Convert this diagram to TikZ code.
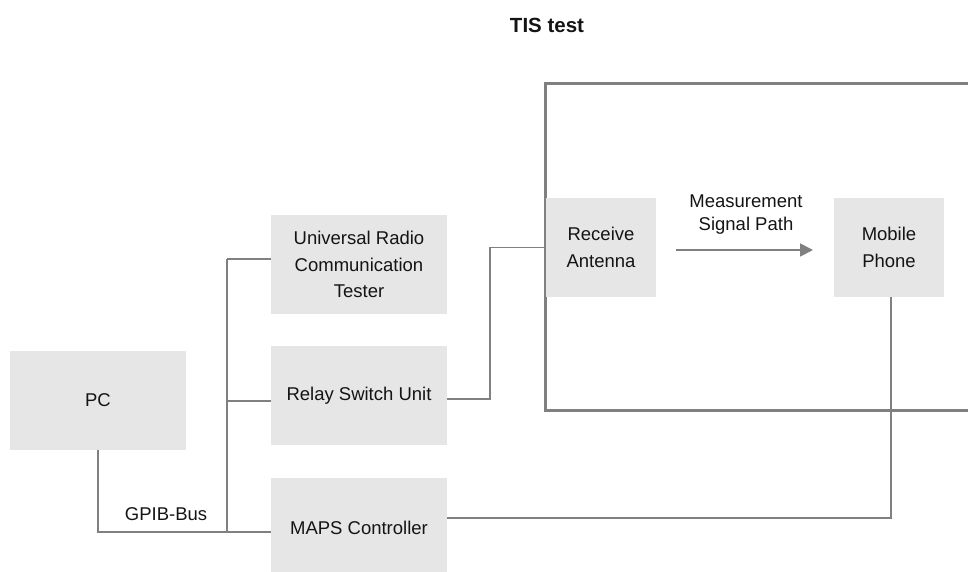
\documentclass[tikz,border=0pt]{standalone}
\usepackage{fontspec}
\setmainfont{Liberation Sans}
\usetikzlibrary{arrows.meta}
\definecolor{boxfill}{HTML}{E6E6E6}
\definecolor{wire}{HTML}{808080}
\definecolor{ink}{HTML}{141414}
\begin{document}
\begin{tikzpicture}[x=1pt,y=-1pt,
  unitbox/.style={rectangle, fill=boxfill, draw=none, inner sep=0pt,
    minimum width=176pt, minimum height=99pt, align=center, text=ink,
    font=\fontsize{18.5pt}{26.7pt}\selectfont},
  smallbox/.style={unitbox, minimum width=110pt},
  link/.style={draw=wire, line width=1.6pt},
  lbl/.style={text=ink, align=center, inner sep=0pt,
    font=\fontsize{18.5pt}{23pt}\selectfont}]
\useasboundingbox (0,0) rectangle (968,572);

% title
\node[text=ink, font=\bfseries\fontsize{20.5pt}{24pt}\selectfont] (title) at (547,25) {TIS test};

% measurement chamber (open to the right)
\draw[draw=wire, line width=3pt] (1000,84) -- (545,84) -- (545,410.5) -- (1000,410.5);

% instruments
\node[unitbox] (pc)   at (98,400)    {PC};
\node[unitbox] (urct) at (359,264.5) {Universal Radio\\Communication\\Tester};
\node[unitbox] (rsu)  at (359,395.5) {Relay Switch Unit};
\node[unitbox] (maps) at (359,527.5) {MAPS Controller};

% chamber contents
\node[smallbox] (ra) at (601,247.5) {Receive\\Antenna};
\node[smallbox] (mp) at (889,247.5) {Mobile\\Phone};

% GPIB bus
\coordinate (bustop) at (227,259);
\coordinate (busbot) at (227,532);
\draw[link] (pc.south) |- (busbot) -- (busbot -| maps.west);
\draw[link] (bustop) -- (busbot);
\draw[link] (bustop) -- (bustop -| urct.west);
\draw[link] (bustop |- 0,401) -- (urct.west |- 0,401);
\node[lbl] (gpib) at (166,514) {GPIB-Bus};

% RF path from relay switch unit to antenna
\draw[link] ([yshift=-3.5pt]rsu.east) -- (490,399) |- (ra.west);

% positioner control to mobile phone
\draw[link] ([xshift=2pt]mp.south) |- ([yshift=9.5pt]maps.east);

% measurement signal path
\coordinate (sigA) at (676,250);
\coordinate (sigB) at (813,250);
\draw[draw=wire, line width=1.8pt, -{Triangle[length=13pt,width=13pt]}] (sigA) -- (sigB);
\node[lbl] (siglbl) at (746,214.5) {Measurement\\Signal Path};
\end{tikzpicture}
\end{document}
